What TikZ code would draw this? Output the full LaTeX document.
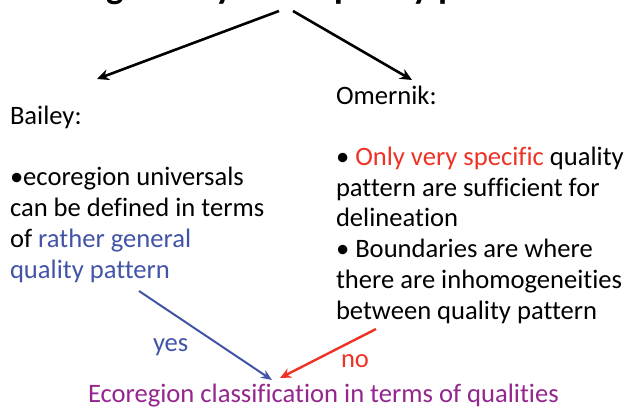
\documentclass[tikz,border=0pt]{standalone}
\usepackage{fontspec}
\setmainfont{Carlito}[Ligatures=NoCommon]
\usetikzlibrary{arrows.meta}
\definecolor{bblue}{RGB}{66,84,168}
\definecolor{rred}{RGB}{238,50,36}
\definecolor{ppurple}{RGB}{148,38,142}
\tikzset{
  txt/.style={inner sep=0pt, outer sep=0pt, anchor=base west, align=left,
    font=\fontsize{26.6}{30.7}\selectfont},
  titletxt/.style={inner sep=0pt, outer sep=0pt, anchor=base west,
    font=\fontsize{37}{40}\selectfont\bfseries},
  blackarrow/.style={draw=black, line width=2.6pt, -{Stealth[length=12pt,width=11pt]}},
  bluearrow/.style={draw=bblue, line width=2pt, -{Stealth[length=11pt,width=9pt]}},
  redarrow/.style={draw=rred, line width=2.4pt, -{Stealth[length=11pt,width=10pt]}},
}
\begin{document}
\begin{tikzpicture}[x=1pt,y=-1pt]
\useasboundingbox (0,0) rectangle (628,409);
\begin{scope}
\clip (0,0) rectangle (628,409);
\node[titletxt] (title) at (22,-1) {Ecoregions by their quality pattern};
\end{scope}
\node[txt] (bailey) at (10,278) {Bailey:\\\strut\\\textbullet ecoregion universals\\can be defined in terms\\of \textcolor{bblue}{rather general}\\\textcolor{bblue}{quality pattern}};
\node[txt] (omernik) at (336,319) {Omernik:\\\strut\\\textbullet{} \textcolor{rred}{Only very specific} quality\\pattern are sufficient for\\delineation\\\textbullet{} Boundaries are where\\there are inhomogeneities\\between quality pattern};
\node[txt, text=bblue] (yes) at (153,351) {yes};
\node[txt, text=rred] (no) at (341,367) {no};
\node[txt, text=ppurple] (result) at (88,402) {Ecoregion classification in terms of qualities};
\coordinate (t1) at (279,11);
\coordinate (t2) at (293,11);
\coordinate (b1) at (97,79);
\coordinate (o1) at (412,80);
\coordinate (bs) at (139,291);
\coordinate (be) at (272,380);
\coordinate (rs) at (376,329);
\coordinate (re) at (280,378);
\draw[blackarrow] (t1) -- (b1);
\draw[blackarrow] (t2) -- (o1);
\draw[bluearrow] (bs) -- (be);
\draw[redarrow] (rs) -- (re);
\end{tikzpicture}
\end{document}
